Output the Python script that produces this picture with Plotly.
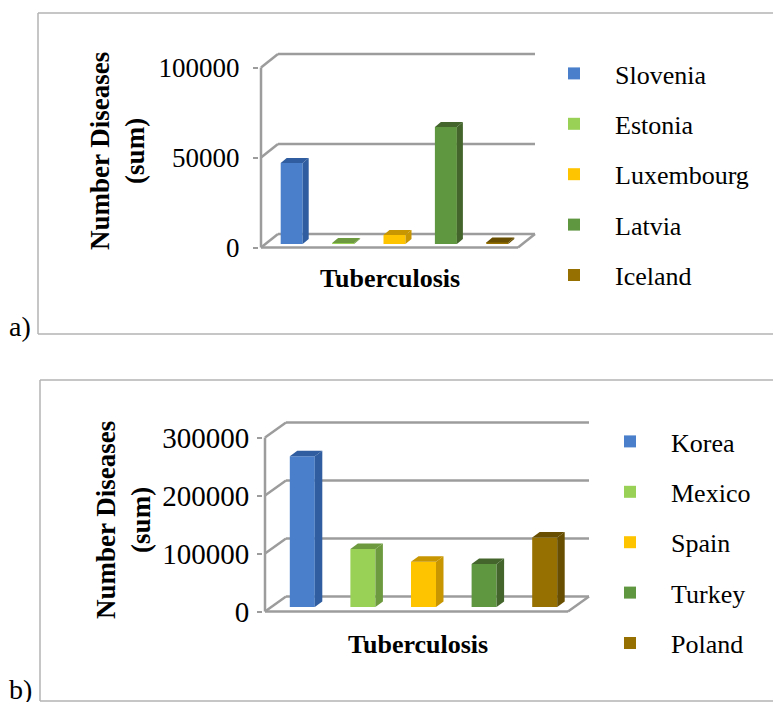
import plotly.graph_objects as go

W, H = 773, 702

countries_a = ["Slovenia", "Estonia", "Luxembourg", "Latvia", "Iceland"]
values_a = [45000, 500, 5000, 65000, 800]
ticks_a = [0, 50000, 100000]

countries_b = ["Korea", "Mexico", "Spain", "Turkey", "Poland"]
values_b = [260000, 100000, 78000, 74000, 120000]
ticks_b = [0, 100000, 200000, 300000]

front = ["#4a80cb", "#98d155", "#ffc400", "#5f9640", "#967000"]
side = ["#2f5d9f", "#6d9a3e", "#c89600", "#44662c", "#674e00"]

FONT = "Liberation Serif"
GRID = "#9c9c9c"


def build(fig, n, names, values, ticks, x0, slot, y0, per, dx, dy, bx, by, bw, lift, shift, top_px, tick_size, standoff):
    xax, yax = f"x{n if n > 1 else ''}", f"y{n if n > 1 else ''}"
    right_px = x0 + slot * 5 + dx + 3
    left_px, bot_px = x0 - 2, y0 + 3
    to_x = lambda p: (p - x0) / slot - 0.5
    to_y = lambda p: (y0 - p) / per
    dxu, dyu, bxu, byu = dx / slot, dy / per, bx / slot, by / per
    xl, xr = -0.5, 4.5
    key = "" if n == 1 else str(n)
    fig.layout["xaxis" + key] = dict(domain=[left_px / W, right_px / W], range=[to_x(left_px), to_x(right_px)],
                                     visible=False, anchor=yax, fixedrange=True)
    fig.layout["yaxis" + key] = dict(domain=[1 - bot_px / H, 1 - top_px / H], range=[to_y(bot_px), to_y(top_px)],
                                     anchor=xax, tickvals=ticks, ticktext=[str(t) for t in ticks], ticks="outside",
                                     ticklen=5, tickwidth=2, tickcolor=GRID, showgrid=False, zeroline=False,
                                     showline=False, ticklabelstandoff=standoff,
                                     tickfont=dict(family=FONT, size=tick_size, color="black"))
    common = dict(xref=xax, yref=yax, layer="below", line=dict(color=GRID, width=2.5))
    for t in ticks:
        fig.add_shape(type="line", x0=xl, x1=xl + dxu, y0=t, y1=t + dyu, **common)
        fig.add_shape(type="line", x0=xl + dxu, x1=xr + dxu, y0=t + dyu, y1=t + dyu, **common)
    fig.add_shape(type="line", x0=xl, x1=xl, y0=0, y1=max(ticks), **common)
    fig.add_shape(type="line", x0=xl, x1=xr, y0=0, y1=0, **common)
    fig.add_shape(type="line", x0=xr, x1=xr + dxu, y0=0, y1=dyu, **common)

    half = bw / slot / 2
    legend = "legend" if n == 1 else "legend2"
    for i, (name, v) in enumerate(zip(names, values)):
        c = i + shift / slot
        fig.add_trace(go.Bar(x=[c], y=[v], base=lift / per, width=2 * half, name=name, xaxis=xax, yaxis=yax,
                             marker=dict(color=front[i], line=dict(width=0)), legendgroup=f"{n}{i}", legend=legend))
        b, t = lift / per, lift / per + v
        l, r = c - half, c + half
        fig.add_trace(go.Scatter(x=[r, r + bxu, r + bxu, r, r], y=[b, b + byu, t + byu, t, b], fill="toself",
                                 fillcolor=side[i], mode="none", showlegend=False, xaxis=xax, yaxis=yax,
                                 hoverinfo="skip", legendgroup=f"{n}{i}", legend=legend))
        fig.add_trace(go.Scatter(x=[l, l + bxu, r + bxu, r, l], y=[t, t + byu, t + byu, t, t], fill="toself",
                                 fillcolor=side[i], mode="none", showlegend=False, xaxis=xax, yaxis=yax,
                                 hoverinfo="skip", legendgroup=f"{n}{i}", legend=legend))
    return xax


fig = go.Figure()
build(fig, 1, countries_a, values_a, ticks_a, x0=261, slot=51.4, y0=247.5, per=180 / 100000,
      dx=17, dy=13.5, bx=6, by=5, bw=22, lift=3.5, shift=5, top_px=50, tick_size=27, standoff=8)
build(fig, 2, countries_b, values_b, ticks_b, x0=265, slot=60.6, y0=611.5, per=58 / 100000,
      dx=21, dy=15, bx=7.5, by=5.5, bw=25, lift=4.5, shift=7, top_px=419, tick_size=29, standoff=2)


def panel(x0, y0, y1):
    line = dict(color="#b3b3b3", width=1.5)
    for a, b, c, d in [(x0, y0, W, y0), (x0, y1, W, y1), (x0, y0, x0, y1)]:
        fig.add_shape(type="line", xref="paper", yref="paper", x0=a / W, x1=c / W,
                      y0=1 - b / H, y1=1 - d / H, line=line, layer="below")


panel(38, 13, 334)
panel(40, 380, 701)


def text(s, x, y, size=25, bold=False, angle=0):
    fig.add_annotation(text=f"<b>{s}</b>" if bold else s, xref="paper", yref="paper", x=x / W, y=1 - y / H,
                       showarrow=False, textangle=angle, xanchor="center", yanchor="middle",
                       font=dict(family=FONT, size=size, color="black"))


text("Number Diseases<br>(sum)", 117, 151, 27, True, -90)
text("Number Diseases<br>(sum)", 123, 520, 27, True, -90)
text("Tuberculosis", 390, 279, 26, True)
text("Tuberculosis", 418, 644, 26, True)
text("a)", 20, 326, 28)
text("b)", 20, 689, 28)

legend_style = dict(xref="paper", yref="paper", xanchor="left", yanchor="top", bgcolor="rgba(0,0,0,0)",
                    tracegroupgap=13.6, itemwidth=72, traceorder="grouped",
                    font=dict(family=FONT, size=26, color="black"))
fig.update_layout(
    width=W, height=H, margin=dict(l=0, r=0, t=0, b=0, autoexpand=False), paper_bgcolor="white", plot_bgcolor="white",
    barmode="overlay", showlegend=True, font=dict(family=FONT), autosize=False,
    legend=dict(x=533 / W, y=1 - 50 / H, **legend_style),
    legend2=dict(x=589 / W, y=1 - 418 / H, **legend_style),
)
fig.write_html("out.html", default_width="773px", default_height="702px",
               config={"displayModeBar": False},
               post_script="document.body.style.margin='0';document.documentElement.style.overflow='hidden';")
